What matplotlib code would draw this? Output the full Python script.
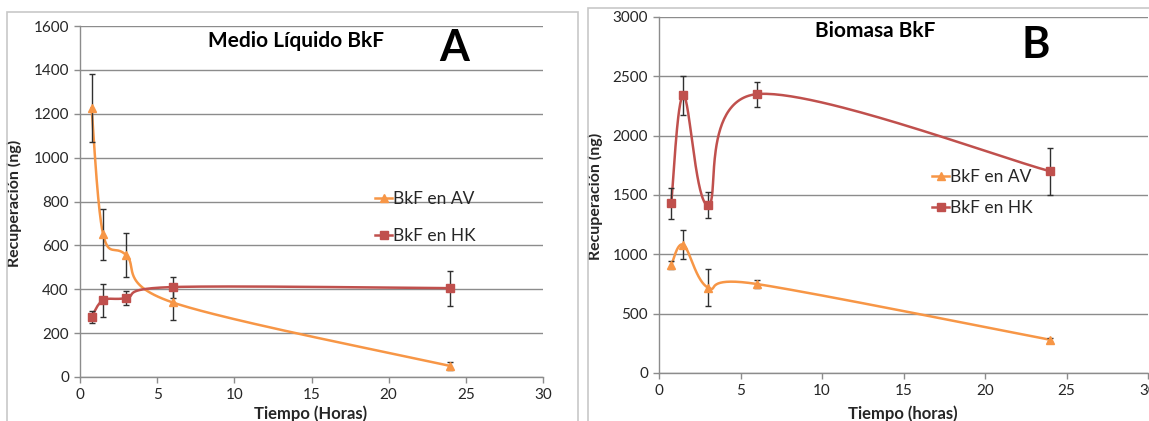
import matplotlib

matplotlib.use("Agg")
import matplotlib.pyplot as plt
import numpy as np
from matplotlib.patches import Rectangle

W, H = 1149, 421

hours = [0.75, 1.5, 3, 6, 24]

# Medio liquido
liq_av = [1225, 650, 555, 340, 50]
liq_av_err = [155, 118, 100, 80, 18]
liq_hk = [275, 350, 360, 410, 405]
liq_hk_err = [28, 75, 30, 48, 80]

# Biomasa
bio_av = [910, 1080, 720, 750, 280]
bio_av_err = [30, 122, 155, 37, 18]
bio_hk = [1430, 2340, 1415, 2350, 1700]
bio_hk_err = [130, 165, 112, 105, 197]

ORANGE = "#F79646"
RED = "#C0504D"
GRID = "#8C8C8C"
TEXT = "#262626"

plt.rcParams["font.family"] = ["Lato", "DejaVu Sans"]


def fx(px):
    return px / W


def fy(py):
    return 1 - py / H


def smooth_curve(ax, x, y, n=60):
    # bezier spline through the points, computed in display space
    pts = ax.transData.transform(np.column_stack([x, y]))
    p = np.vstack([pts[0], pts, pts[-1]])
    out = []
    t = np.linspace(0, 1, n)[:, None]
    for i in range(1, len(p) - 2):
        p0, p1, p2, p3 = p[i - 1], p[i], p[i + 1], p[i + 2]
        c1 = p1 + (p2 - p0) / 6
        c2 = p2 - (p3 - p1) / 6
        seg = ((1 - t) ** 3) * p1 + 3 * ((1 - t) ** 2) * t * c1 + 3 * (1 - t) * t ** 2 * c2 + t ** 3 * p2
        out.append(seg)
    out = np.vstack(out)
    return ax.transData.inverted().transform(out).T


def style_axes(ax, ymax, ystep):
    ax.set_xlim(0, 30)
    ax.set_ylim(0, ymax)
    ax.set_xticks(range(0, 31, 5))
    ax.set_yticks(range(0, ymax + 1, ystep))
    ax.grid(axis="y", color=GRID, linewidth=1)
    ax.set_axisbelow(True)
    for side in ["top", "right"]:
        ax.spines[side].set_visible(False)
    for side in ["left", "bottom"]:
        ax.spines[side].set_color(GRID)
        ax.spines[side].set_linewidth(1)
    ax.tick_params(colors=GRID, labelcolor=TEXT, labelsize=11, length=4, width=1, pad=4)


def draw_series(ax, y, err, color, marker, ms, label):
    sx, sy = smooth_curve(ax, hours, y)
    ax.plot(sx, sy, color=color, linewidth=1.8, zorder=3)
    ax.errorbar(hours, y, yerr=err, fmt="none", ecolor="#303030", elinewidth=1,
                capsize=2.5, capthick=1, zorder=4)
    ax.plot(hours, y, linestyle="none", marker=marker, markersize=ms, color=color, zorder=5)
    ax.plot([], [], color=color, marker=marker, markersize=ms, linewidth=1.8, label=label)


fig = plt.figure(figsize=(W / 100, H / 100), dpi=100)

fig.patches.append(Rectangle((fx(7), fy(430)), fx(578 - 7), (430 - 12) / H, transform=fig.transFigure,
                             fill=False, edgecolor="#C8C8C8", linewidth=1.2))
fig.patches.append(Rectangle((fx(588), fy(430)), fx(1160 - 588), (430 - 8) / H, transform=fig.transFigure,
                             fill=False, edgecolor="#C8C8C8", linewidth=1.2))

ax_a = fig.add_axes([fx(80), fy(377), fx(543 - 80), (377 - 26) / H])
ax_b = fig.add_axes([fx(659), fy(373), fx(1148 - 659), (373 - 17) / H])

style_axes(ax_a, 1600, 200)
style_axes(ax_b, 3000, 500)

draw_series(ax_a, liq_av, liq_av_err, ORANGE, "^", 6, "BkF en AV")
draw_series(ax_a, liq_hk, liq_hk_err, RED, "s", 6, "BkF en HK")
draw_series(ax_b, bio_hk, bio_hk_err, RED, "s", 6, "BkF en HK")
draw_series(ax_b, bio_av, bio_av_err, ORANGE, "^", 6, "BkF en AV")

# legend position (left edge, vertical centre) and row spacing per panel
for ax, x0, y0, gap in [(ax_a, 375, 217.5, 1.25), (ax_b, 932, 192.5, 0.85)]:
    handles, labels = ax.get_legend_handles_labels()
    order = [labels.index("BkF en AV"), labels.index("BkF en HK")]
    ax.legend([handles[i] for i in order], [labels[i] for i in order],
              loc="center left", bbox_to_anchor=(fx(x0), fy(y0)), bbox_transform=fig.transFigure,
              frameon=False, fontsize=12.5, handlelength=1.0, handletextpad=0.05,
              labelspacing=gap, borderpad=0, borderaxespad=0, labelcolor=TEXT)

ax_a.set_ylabel("Recuperación (ng)", fontsize=11.5, fontweight="bold", color=TEXT)
ax_b.set_ylabel("Recuperación (ng)", fontsize=11.5, fontweight="bold", color=TEXT)
ax_a.yaxis.set_label_coords(fx(22), fy(203), transform=fig.transFigure)
ax_b.yaxis.set_label_coords(fx(603), fy(196), transform=fig.transFigure)

fig.text(fx(311), fy(414), "Tiempo (Horas)", fontsize=12, fontweight="bold", color=TEXT, ha="center", va="center")
fig.text(fx(903), fy(414), "Tiempo (horas)", fontsize=12, fontweight="bold", color=TEXT, ha="center", va="center")

fig.text(fx(296), fy(41), "Medio Líquido BkF", fontsize=15, fontweight="bold", color="black", ha="center", va="center")
fig.text(fx(454), fy(48), "A", fontsize=31, fontweight="bold", color="black", ha="center", va="center")
fig.text(fx(875), fy(31), "Biomasa BkF", fontsize=15, fontweight="bold", color="black", ha="center", va="center")
fig.text(fx(1036), fy(45), "B", fontsize=31, fontweight="bold", color="black", ha="center", va="center")

fig.savefig("out.png", dpi=100)
